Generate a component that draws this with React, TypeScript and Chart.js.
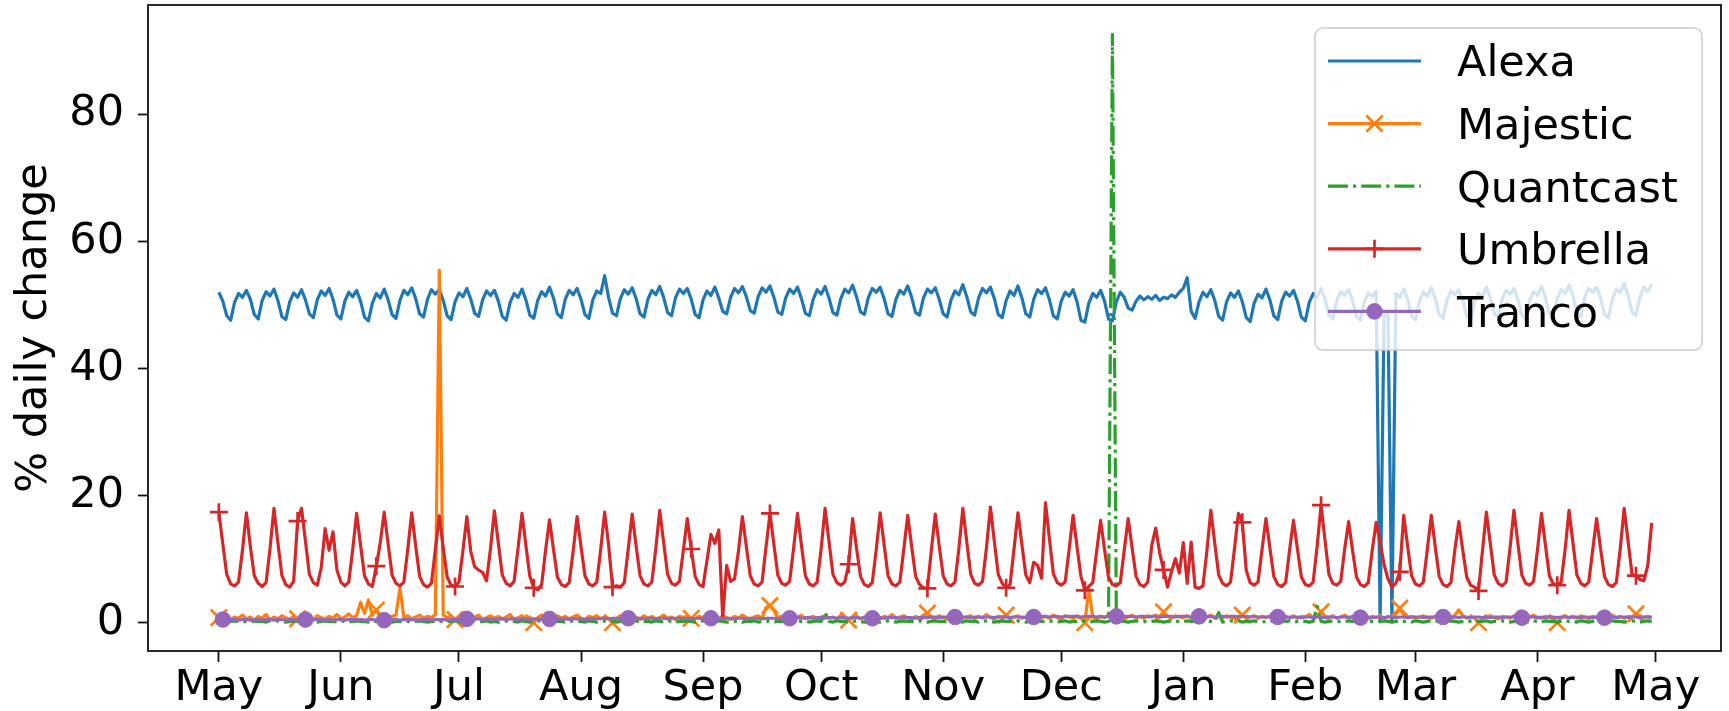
import React, { useEffect, useRef } from 'react';
import { Chart, registerables } from 'chart.js';

Chart.register(...registerables);

const FONT = '"DejaVu Sans", "Liberation Sans", sans-serif';
const FONT_SIZE = 43;
const LINE_W = 3.2;

// x axis: day index, 0 = 1 May
const monthTickDays = [0, 31, 61, 92, 123, 153, 184, 214, 245, 276, 304, 335, 365];
const monthLabels = ['May', 'Jun', 'Jul', 'Aug', 'Sep', 'Oct', 'Nov', 'Dec', 'Jan', 'Feb', 'Mar', 'Apr', 'May'];
const yTickValues = [0, 20, 40, 60, 80];
const seriesNames = ['Alexa', 'Majestic', 'Quantcast', 'Umbrella', 'Tranco'];
const seriesColors = ['#1f77b4', '#ff7f0e', '#2ca02c', '#d62728', '#9467bd'];

// daily % change, one row per week
const alexa = [
  52.0, 50.6, 48.3, 47.6, 50.4, 51.8, 51.2,
  52.3, 50.9, 48.5, 47.8, 50.7, 52.1, 51.4,
  52.5, 50.7, 48.2, 47.7, 50.5, 51.9, 51.2,
  52.4, 50.8, 48.6, 48.0, 50.8, 52.2, 51.5,
  52.6, 50.9, 48.4, 47.8, 50.6, 52.0, 51.3,
  52.3, 50.6, 48.1, 47.5, 50.3, 51.8, 51.1,
  52.5, 50.8, 48.5, 47.9, 50.7, 52.3, 51.6,
  52.7, 51.0, 48.6, 48.1, 50.9, 52.4, 51.7,
  52.4, 50.7, 48.3, 47.7, 50.5, 51.9, 51.3,
  52.6, 50.9, 48.7, 48.2, 50.8, 52.2, 51.5,
  52.3, 50.6, 48.2, 47.6, 50.4, 51.8, 51.2,
  52.5, 50.8, 48.4, 47.9, 50.7, 52.1, 51.4,
  52.8, 51.1, 48.6, 48.0, 50.9, 52.3, 51.6,
  52.6, 50.9, 48.5, 47.9, 50.8, 52.2, 51.8,
  54.6, 51.2, 48.7, 48.3, 51.0, 52.4, 51.7,
  52.7, 51.0, 48.6, 48.1, 50.9, 52.3, 51.6,
  52.9, 51.2, 48.8, 48.3, 51.1, 52.5, 51.8,
  52.6, 50.9, 48.5, 48.0, 50.8, 52.2, 51.5,
  52.8, 51.1, 49.0, 48.6, 51.2, 52.6, 51.9,
  52.9, 51.3, 49.1, 48.7, 51.3, 52.7, 52.0,
  53.0, 51.2, 48.9, 48.5, 51.1, 52.5, 51.8,
  52.8, 51.0, 48.7, 48.3, 50.9, 52.4, 51.7,
  52.9, 51.1, 48.8, 48.4, 51.0, 52.5, 51.9,
  53.1, 51.3, 48.9, 48.5, 51.2, 52.6, 52.0,
  52.8, 51.0, 48.6, 48.2, 50.9, 52.3, 51.7,
  53.0, 51.2, 48.8, 48.4, 51.1, 52.5, 51.9,
  52.7, 50.9, 48.6, 48.1, 50.8, 52.2, 51.6,
  53.2, 51.3, 48.9, 48.4, 51.1, 52.6, 51.9,
  52.8, 51.0, 48.5, 48.0, 50.7, 52.2, 51.5,
  53.0, 51.1, 48.6, 48.1, 50.9, 52.4, 51.8,
  52.7, 50.8, 48.3, 47.8, 50.6, 52.0, 51.4,
  52.4, 50.5, 47.6, 47.3, 50.3, 51.8, 51.2,
  52.3, 50.6, 47.8, 47.5, 50.5, 52.0, 51.2,
  49.5, 49.2, 50.6, 51.4, 50.8, 51.3, 50.9,
  51.5, 50.7, 51.2, 51.0, 51.6, 51.2, 52.0,
  52.6, 54.3, 49.0, 47.9, 50.5, 52.0, 51.3,
  52.4, 50.7, 48.2, 47.6, 50.5, 51.9, 51.2,
  52.2, 50.5, 48.0, 47.4, 50.3, 51.7, 51.1,
  52.5, 50.8, 48.3, 47.7, 50.6, 52.0, 51.4,
  52.3, 50.6, 48.1, 47.5, 50.4, 51.8, 51.2,
  52.6, 50.9, 48.4, 47.8, 50.7, 52.1, 51.5,
  52.4, 50.7, 48.2, 47.6, 50.5, 51.9, 51.3,
  52.2, 0.3, 48.3, 48.6, 0.3, 51.8, 51.2,
  52.5, 50.8, 48.3, 47.7, 50.6, 52.0, 51.4,
  52.7, 51.0, 48.5, 47.9, 50.8, 52.2, 51.6,
  52.4, 50.7, 48.2, 47.6, 50.5, 51.9, 51.3,
  52.8, 51.1, 48.6, 48.0, 50.9, 52.3, 51.7,
  52.6, 50.9, 48.4, 47.8, 50.7, 52.1, 51.5,
  52.9, 51.2, 48.7, 48.1, 51.0, 52.4, 51.8,
  53.1, 51.4, 48.8, 48.2, 51.2, 52.6, 52.0,
  52.8, 51.1, 48.6, 48.0, 50.9, 52.5, 51.9,
  53.4, 51.5, 48.9, 48.3, 51.2, 52.8, 52.1,
  53.3,
];

const majestic = [
  0.8, 0.6, 1.1, 0.5, 0.9, 0.7, 1.2,
  0.6, 0.9, 0.4, 1.0, 0.7, 1.3, 0.5,
  0.9, 0.6, 1.1, 0.8, 0.5, 1.0, 0.6,
  1.2, 0.7, 0.9, 0.5, 1.1, 0.8, 0.6,
  1.0, 0.7, 1.3, 0.6, 0.9, 1.4, 0.8,
  1.1, 3.2, 1.5, 3.6, 1.2, 2.0, 0.9,
  1.3, 0.7, 1.0, 1.2, 5.5, 0.8, 1.1,
  0.6, 0.9, 1.2, 0.7, 1.0, 0.8, 1.3,
  55.5, 1.2, 0.8, 1.1, 0.5, 0.9, 0.7,
  1.0, 0.6, 0.9, 1.2, 0.5, 0.8, 1.1,
  0.7, 1.0, 0.6, 0.9, 1.3, 0.5, 0.8,
  1.1, 0.6, 0.9, 0.0, 0.8, 1.2, 0.6,
  0.9, 0.5, 1.1, 0.7, 1.0, 0.6, 0.9,
  1.2, 0.7, 0.5, 1.0, 0.8, 1.1, 0.6,
  0.9, 0.7, 0.0, 0.6, 1.0, 0.8, 1.2,
  0.6, 0.9, 0.5, 1.1, 0.7, 1.0, 0.6,
  0.8, 1.2, 0.7, 0.9, 0.5, 1.0, 0.8,
  1.1, 0.7, 0.6, 1.0, 0.8, 1.2, 0.7,
  0.9, 0.6, 1.1, 0.8, 0.5, 1.0, 0.7,
  1.2, 0.8, 0.6, 0.9, 1.1, 0.7, 2.4,
  2.7, 1.9, 0.8, 1.0, 0.6, 1.1, 0.7,
  0.9, 1.2, 0.6, 0.8, 1.0, 0.5, 0.9,
  1.1, 0.7, 0.9, 0.6, 1.2, 0.8, 0.4,
  0.8, 1.1, 0.6, 0.9, 0.7, 1.2, 0.8,
  0.6, 1.0, 0.8, 1.3, 0.7, 0.9, 1.1,
  0.8, 0.6, 1.0, 0.7, 1.2, 1.5, 0.9,
  0.7, 1.1, 0.8, 0.6, 1.0, 0.9, 1.2,
  0.7, 0.9, 1.1, 0.6, 1.0, 0.8, 1.3,
  0.8, 0.6, 1.0, 0.9, 1.2, 0.7, 0.9,
  1.1, 0.7, 0.9, 1.2, 0.6, 1.0, 0.8,
  1.0, 0.7, 1.2, 0.8, 0.6, 1.1, 0.9,
  0.7, 1.0, 0.8, 0.0, 5.3, 0.9, 0.6,
  1.0, 0.8, 1.2, 0.7, 0.9, 1.1, 0.6,
  0.9, 1.2, 0.8, 1.0, 0.7, 1.1, 0.9,
  1.2, 0.8, 1.7, 1.0, 0.7, 1.1, 0.9,
  0.8, 1.1, 0.7, 1.0, 1.3, 0.8, 0.9,
  1.2, 0.7, 1.0, 0.8, 1.1, 0.9, 0.6,
  1.0, 1.2, 0.8, 0.9, 1.1, 0.7, 1.0,
  0.8, 1.1, 0.9, 0.7, 1.2, 1.0, 0.8,
  1.1, 0.7, 1.0, 0.9, 1.3, 0.8, 1.0,
  1.7, 1.0, 0.8, 1.1, 0.7, 0.9, 1.2,
  0.8, 1.0, 0.7, 1.1, 0.9, 0.6, 1.0,
  0.8, 1.1, 0.7, 1.0, 0.9, 1.3, 2.3,
  1.2, 0.8, 1.0, 0.7, 0.9, 1.1, 0.8,
  0.7, 1.0, 0.8, 1.1, 0.6, 0.9, 1.2,
  2.0, 1.1, 0.7, 0.9, 0.8, 0.0, 0.7,
  0.9, 1.1, 0.8, 0.6, 1.0, 0.9, 0.7,
  1.1, 0.8, 1.0, 0.6, 0.9, 1.2, 0.8,
  0.7, 1.0, 0.9, 0.6, 0.0, 0.8, 1.1,
  0.8, 1.0, 0.7, 1.1, 0.9, 0.6, 1.0,
  0.8, 1.1, 0.7, 0.9, 1.2, 0.8, 1.0,
  0.7, 1.0, 0.9, 1.4, 1.1, 0.8, 1.0,
  0.9,
];

const quantcast = [
  0.2, 0.3, 0.1, 0.2, 0.3, 0.2, 0.1,
  0.2, 0.1, 0.3, 0.2, 0.2, 0.1, 0.3,
  0.2, 0.3, 0.2, 0.1, 0.2, 0.3, 0.2,
  0.1, 0.2, 0.3, 0.2, 0.1, 0.2, 0.3,
  0.2, 0.2, 0.1, 0.3, 0.2, 0.1, 0.2,
  0.3, 0.2, 0.2, 0.1, 0.3, 0.2, 0.1,
  0.2, 0.3, 0.1, 0.2, 0.2, 0.3, 0.2,
  0.1, 0.2, 0.3, 0.2, 0.1, 0.2, 0.2,
  0.3, 0.1, 0.2, 0.2, 0.3, 0.1, 0.2,
  0.2, 0.2, 0.3, 0.1, 0.2, 0.3, 0.1,
  0.2, 0.1, 0.2, 0.3, 0.2, 0.2, 0.1,
  0.3, 0.2, 0.1, 0.2, 0.3, 0.2, 0.2,
  0.1, 0.3, 0.2, 0.2, 0.1, 0.2, 0.3,
  0.2, 0.2, 0.1, 0.3, 0.2, 0.1, 0.2,
  0.3, 0.2, 0.2, 0.1, 0.2, 0.3, 0.2,
  0.1, 0.2, 0.3, 0.2, 0.2, 0.1, 0.3,
  0.2, 0.1, 0.2, 0.3, 0.1, 0.2, 0.2,
  0.3, 0.2, 0.1, 0.2, 0.3, 0.2, 0.1,
  0.2, 0.3, 0.2, 0.1, 0.2, 0.2, 0.3,
  0.1, 0.2, 0.2, 0.3, 0.1, 0.2, 0.2,
  0.3, 0.1, 0.2, 0.2, 0.3, 0.2, 0.1,
  0.2, 0.2, 0.3, 0.1, 0.2, 0.3, 0.2,
  1.6, 0.2, 0.1, 0.3, 0.2, 0.2, 0.1,
  0.2, 0.3, 0.2, 0.1, 0.2, 0.3, 0.2,
  0.1, 0.2, 0.3, 0.2, 0.1, 0.2, 0.3,
  0.2, 0.2, 0.1, 0.3, 0.2, 0.1, 0.2,
  0.3, 0.2, 0.2, 0.1, 0.3, 0.2, 0.2,
  0.1, 0.3, 0.2, 0.2, 0.1, 0.2, 0.3,
  0.2, 0.1, 0.2, 0.3, 0.2, 0.2, 0.1,
  0.3, 0.2, 0.1, 0.2, 0.3, 0.2, 0.2,
  0.2, 0.3, 0.2, 0.1, 0.2, 0.3, 0.1,
  0.2, 0.2, 0.3, 0.2, 0.1, 0.2, 0.3,
  0.2, 0.1, 0.2, 92.6, 0.2, 0.3, 0.2,
  0.1, 0.2, 0.3, 0.2, 0.2, 0.1, 0.2,
  0.3, 0.2, 0.1, 0.2, 0.3, 0.2, 0.2,
  0.1, 0.3, 0.2, 0.2, 0.1, 0.2, 0.3,
  0.2, 0.2, 1.6, 0.1, 0.2, 0.3, 0.2,
  0.3, 0.1, 0.2, 0.2, 0.3, 0.2, 0.1,
  0.2, 0.3, 0.2, 0.1, 0.2, 0.2, 0.3,
  0.1, 0.2, 0.3, 0.2, 0.1, 0.2, 2.6,
  0.2, 0.1, 0.2, 0.3, 0.2, 0.2, 0.1,
  0.3, 0.2, 0.2, 0.1, 0.3, 0.2, 0.2,
  0.1, 0.2, 0.3, 0.2, 0.1, 0.2, 0.3,
  0.2, 0.2, 0.1, 0.3, 0.2, 0.1, 0.2,
  0.3, 0.2, 0.2, 0.1, 0.2, 0.3, 0.2,
  0.1, 0.2, 0.3, 0.2, 0.1, 0.2, 0.2,
  0.3, 0.1, 0.2, 0.2, 0.3, 0.2, 0.1,
  0.2, 0.2, 0.3, 0.1, 0.2, 0.3, 0.2,
  0.1, 0.3, 0.2, 0.2, 0.1, 0.2, 0.3,
  0.2, 0.2, 0.1, 0.3, 0.2, 0.1, 0.2,
  0.3, 0.2, 0.2, 0.1, 0.3, 0.2, 0.2,
  0.1, 0.2, 0.3, 0.2, 0.1, 0.2, 0.3,
  0.2,
];

const umbrella = [
  17.4, 12.4, 7.6, 6.1, 5.8, 6.4, 11.4,
  17.3, 12.0, 7.4, 6.2, 5.7, 6.3, 11.7,
  18.0, 12.6, 7.5, 6.0, 5.6, 6.5, 16.0,
  18.0, 12.8, 7.6, 6.3, 5.9, 8.6, 14.8,
  11.4, 14.3, 8.3, 6.4, 5.8, 6.4, 11.5,
  17.2, 12.2, 7.4, 6.1, 5.7, 8.9, 12.6,
  17.4, 12.4, 7.5, 6.2, 5.8, 6.4, 11.6,
  17.3, 12.1, 7.3, 6.0, 5.6, 6.2, 11.5,
  16.8, 11.8, 7.2, 5.9, 5.7, 6.4, 11.3,
  16.7, 11.2, 8.8, 8.3, 7.9, 6.6, 11.6,
  17.6, 12.5, 7.5, 6.2, 5.8, 6.5, 11.7,
  17.2, 12.2, 7.3, 5.5, 5.2, 6.0, 11.4,
  16.2, 11.6, 7.2, 6.0, 5.7, 6.3, 11.2,
  16.7, 12.0, 7.4, 6.1, 5.8, 6.4, 11.5,
  17.4, 12.3, 5.6, 5.8, 5.6, 6.3, 11.6,
  17.1, 12.1, 7.4, 6.1, 5.8, 6.4, 11.7,
  17.7, 12.6, 7.6, 6.2, 5.9, 6.5, 11.4,
  16.4, 11.6, 7.3, 6.0, 5.7, 9.8, 13.9,
  12.5, 14.6, 0.8, 9.0, 6.5, 6.9, 11.3,
  16.7, 12.0, 7.4, 6.1, 5.8, 6.4, 11.9,
  17.2, 12.3, 7.5, 6.2, 5.9, 6.5, 11.7,
  17.2, 12.2, 7.4, 6.1, 5.8, 6.4, 11.6,
  18.0, 12.8, 7.6, 6.3, 5.9, 6.4, 9.2,
  16.4, 11.7, 7.3, 6.0, 5.7, 6.3, 11.5,
  17.3, 12.3, 7.4, 6.1, 5.8, 6.4, 11.6,
  16.9, 12.0, 7.3, 6.0, 5.5, 5.4, 11.4,
  17.1, 12.1, 7.4, 6.1, 5.8, 6.4, 11.7,
  18.0, 12.7, 7.6, 6.2, 5.9, 6.5, 11.8,
  18.2, 12.8, 7.6, 6.2, 5.5, 6.0, 11.6,
  17.3, 12.3, 7.5, 6.3, 9.5, 9.0, 7.0,
  18.9, 13.2, 7.7, 6.3, 5.9, 6.4, 11.5,
  16.9, 12.0, 7.3, 5.1, 5.7, 6.3, 11.3,
  16.1, 11.5, 7.2, 6.0, 5.8, 6.3, 11.4,
  16.4, 11.8, 7.3, 6.0, 5.7, 6.4, 12.2,
  14.9, 11.0, 8.3, 5.6, 8.0, 10.1, 7.8,
  12.6, 6.2, 12.7, 5.6, 5.4, 5.8, 11.3,
  17.7, 12.5, 7.5, 6.2, 5.8, 6.4, 11.6,
  17.2, 15.8, 8.2, 6.3, 5.9, 6.4, 11.5,
  16.4, 11.8, 7.3, 6.0, 5.7, 6.3, 11.4,
  16.1, 11.6, 7.2, 6.0, 5.8, 6.4, 12.0,
  18.5, 13.0, 7.6, 6.2, 5.9, 6.5, 11.6,
  15.9, 11.4, 7.2, 6.0, 5.7, 6.3, 11.4,
  15.8, 12.6, 9.2, 6.9, 5.6, 6.2, 8.0,
  16.9, 12.0, 7.4, 6.1, 5.8, 6.4, 11.6,
  16.9, 12.0, 7.3, 6.0, 5.7, 6.3, 11.5,
  15.9, 11.4, 7.2, 5.9, 5.6, 5.0, 11.3,
  17.4, 12.4, 7.5, 6.2, 5.8, 6.4, 11.7,
  17.7, 12.5, 7.5, 6.2, 5.9, 6.5, 11.6,
  17.2, 12.2, 7.4, 6.1, 5.9, 6.4, 11.5,
  17.7, 12.5, 7.5, 6.2, 5.8, 6.4, 11.4,
  16.4, 11.7, 7.3, 6.0, 5.7, 6.3, 11.6,
  18.0, 12.8, 7.6, 7.4, 6.8, 6.6, 9.0,
  15.7,
];

const tranco = [
  0.5, 0.5, 0.4, 0.5, 0.5, 0.4, 0.5,
  0.5, 0.4, 0.5, 0.5, 0.4, 0.5, 0.5,
  0.4, 0.5, 0.5, 0.4, 0.5, 0.5, 0.4,
  0.5, 0.5, 0.4, 0.5, 0.5, 0.5, 0.4,
  0.5, 0.4, 0.5, 0.5, 0.4, 0.5, 0.5,
  0.5, 0.5, 0.4, 0.5, 0.5, 0.4, 0.5,
  0.4, 0.5, 0.5, 0.5, 0.4, 0.5, 0.5,
  0.5, 0.4, 0.5, 0.5, 0.5, 0.4, 0.5,
  0.5, 0.5, 0.4, 0.5, 0.5, 0.5, 0.6,
  0.6, 0.5, 0.6, 0.6, 0.5, 0.6, 0.6,
  0.5, 0.6, 0.6, 0.5, 0.6, 0.6, 0.5,
  0.6, 0.6, 0.5, 0.6, 0.6, 0.5, 0.6,
  0.6, 0.5, 0.6, 0.6, 0.6, 0.5, 0.6,
  0.6, 0.6, 0.5, 0.6, 0.6, 0.6, 0.7,
  0.7, 0.6, 0.7, 0.7, 0.6, 0.7, 0.7,
  0.6, 0.7, 0.7, 0.6, 0.7, 0.7, 0.6,
  0.7, 0.7, 0.6, 0.7, 0.7, 0.7, 0.6,
  0.7, 0.6, 0.7, 0.7, 0.6, 0.7, 0.7,
  0.7, 0.7, 0.6, 0.7, 0.7, 0.6, 0.7,
  0.7, 0.6, 0.7, 0.7, 0.7, 0.6, 0.7,
  0.7, 0.7, 0.6, 0.7, 0.7, 0.7, 0.8,
  0.8, 0.7, 0.8, 0.8, 0.7, 0.8, 0.8,
  0.7, 0.8, 0.8, 0.7, 0.8, 0.8, 0.7,
  0.8, 0.8, 0.7, 0.8, 0.8, 0.7, 0.8,
  0.8, 0.7, 0.8, 0.8, 0.8, 0.7, 0.8,
  0.8, 0.8, 0.7, 0.8, 0.8, 0.8, 0.9,
  0.9, 0.8, 0.9, 0.9, 0.8, 0.9, 0.9,
  0.9, 0.9, 0.8, 0.9, 0.9, 0.8, 0.9,
  0.9, 0.8, 0.9, 0.9, 0.9, 0.8, 0.9,
  0.9, 0.9, 0.8, 0.9, 0.9, 0.9, 1.0,
  1.0, 0.9, 1.0, 1.0, 0.9, 1.0, 1.0,
  1.0, 1.0, 0.9, 1.0, 1.0, 1.0, 0.9,
  1.0, 0.9, 1.0, 1.0, 1.0, 0.9, 1.0,
  1.0, 1.0, 0.9, 1.0, 1.0, 0.9, 1.0,
  1.0, 0.9, 1.0, 1.0, 1.0, 0.9, 1.0,
  1.0, 1.0, 0.9, 1.0, 1.0, 1.0, 0.9,
  1.0, 0.9, 1.0, 1.0, 0.9, 1.0, 1.0,
  0.9, 1.0, 1.0, 0.9, 1.0, 0.9, 0.9,
  0.9, 0.9, 0.8, 0.9, 0.9, 0.9, 0.8,
  0.9, 0.9, 0.8, 0.9, 0.9, 0.8, 0.9,
  0.9, 0.8, 0.9, 0.9, 0.8, 0.9, 0.9,
  0.8, 0.9, 0.9, 0.8, 0.9, 0.9, 0.8,
  0.9, 0.9, 0.8, 0.9, 0.9, 0.8, 0.9,
  0.9, 0.8, 0.9, 0.9, 0.9, 0.8, 0.9,
  0.9, 0.9, 0.8, 0.9, 0.9, 0.8, 0.9,
  0.8, 0.9, 0.9, 0.8, 0.9, 0.9, 0.8,
  0.9, 0.8, 0.9, 0.9, 0.8, 0.9, 0.9,
  0.9, 0.9, 0.8, 0.9, 0.9, 0.9, 0.8,
  0.9, 0.8, 0.9, 0.9, 0.8, 0.9, 0.9,
  0.8, 0.9, 0.9, 0.8, 0.9, 0.9, 0.8,
  0.9, 0.9, 0.8, 0.9, 0.9, 0.8, 0.9,
  0.9, 0.8, 0.9, 0.9, 0.8, 0.9, 0.9,
  0.8,
];

const seriesValues = [alexa, majestic, quantcast, umbrella, tranco];

// marker styling (matplotlib markevery emulation)
const MARK_EVERY = 20;
const TRANCO_MARK_STEP = 20.64;
const isTrancoMark = (i: number) =>
  i >= 1 && Math.round(1 + Math.round((i - 1) / TRANCO_MARK_STEP) * TRANCO_MARK_STEP) === i;

const markerStyles: (null | { style: string; r: number; lw: number })[] = [
  null,
  { style: 'crossRot', r: 11.5, lw: 2.7 },
  null,
  { style: 'cross', r: 9, lw: 2.7 },
  { style: 'circle', r: 7.8, lw: 1 },
];

function drawMarker(ctx: CanvasRenderingContext2D, style: string, x: number, y: number, r: number, color: string, lw: number) {
  ctx.save();
  ctx.setLineDash([]);
  ctx.strokeStyle = color;
  ctx.fillStyle = color;
  ctx.lineWidth = lw;
  ctx.beginPath();
  if (style === 'circle') {
    ctx.arc(x, y, r, 0, Math.PI * 2);
    ctx.fill();
    ctx.stroke();
  } else if (style === 'cross') {
    ctx.moveTo(x - r, y);
    ctx.lineTo(x + r, y);
    ctx.moveTo(x, y - r);
    ctx.lineTo(x, y + r);
    ctx.stroke();
  } else {
    const d = r * Math.SQRT1_2;
    ctx.moveTo(x - d, y - d);
    ctx.lineTo(x + d, y + d);
    ctx.moveTo(x - d, y + d);
    ctx.lineTo(x + d, y - d);
    ctx.stroke();
  }
  ctx.restore();
}

const framePlugin = {
  id: 'mplFrame',
  afterDatasetsDraw(chart: any) {
    const { ctx, chartArea: a } = chart;
    ctx.save();
    ctx.strokeStyle = '#111';
    ctx.lineWidth = 1.8;
    ctx.strokeRect(a.left, a.top, a.right - a.left, a.bottom - a.top);
    ctx.restore();
  },
};

const legendPlugin = {
  id: 'mplLegend',
  afterDraw(chart: any) {
    const { ctx, chartArea: a } = chart;
    const boxRight = a.right - 19;
    const boxTop = a.top + 23;
    const boxW = 387;
    const boxH = 322;
    const boxLeft = boxRight - boxW;
    ctx.save();
    ctx.beginPath();
    ctx.roundRect(boxLeft, boxTop, boxW, boxH, 8);
    ctx.fillStyle = 'rgba(255,255,255,0.8)';
    ctx.fill();
    ctx.strokeStyle = '#cccccc';
    ctx.lineWidth = 1.5;
    ctx.stroke();
    chart.data.datasets.forEach((ds: any, i: number) => {
      const cy = boxTop + 33 + i * 62.6;
      const x1 = boxLeft + 13;
      const x2 = boxLeft + 106;
      ctx.save();
      ctx.beginPath();
      ctx.setLineDash(ds.borderDash || []);
      ctx.strokeStyle = ds.borderColor;
      ctx.lineWidth = ds.borderWidth;
      ctx.moveTo(x1, cy);
      ctx.lineTo(x2, cy);
      ctx.stroke();
      ctx.restore();
      const m = markerStyles[i];
      if (m) drawMarker(ctx, m.style, (x1 + x2) / 2, cy, m.r, ds.borderColor, m.lw);
      ctx.fillStyle = '#000';
      ctx.font = `${FONT_SIZE}px ${FONT}`;
      ctx.textBaseline = 'alphabetic';
      ctx.textAlign = 'left';
      ctx.fillText(ds.label, boxLeft + 142, cy + 0.36 * FONT_SIZE);
    });
    ctx.restore();
  },
};

export default function App() {
  const canvasRef = useRef<HTMLCanvasElement | null>(null);

  useEffect(() => {
    const canvas = canvasRef.current;
    if (!canvas) return;

    const datasets = seriesNames.map((name, i) => {
      const m = markerStyles[i];
      const color = seriesColors[i];
      const ds: any = {
        label: name,
        data: seriesValues[i].map((y, x) => ({ x, y })),
        borderColor: color,
        backgroundColor: color,
        borderWidth: LINE_W,
        borderJoinStyle: 'round',
        tension: 0,
        fill: false,
        order: seriesNames.length - i,
        pointRadius: 0,
        pointHoverRadius: 0,
        pointHitRadius: 0,
      };
      if (name === 'Quantcast') ds.borderDash = [20, 5, 3.2, 5];
      if (m) {
        ds.pointStyle = m.style;
        ds.pointBorderWidth = m.lw;
        ds.pointBorderColor = color;
        ds.pointBackgroundColor = color;
        ds.pointRadius = (c: any) => {
          const show = name === 'Tranco' ? isTrancoMark(c.index) : c.index % MARK_EVERY === 0;
          return show ? m.r : 0;
        };
      }
      return ds;
    });

    const tickFont = { family: FONT, size: FONT_SIZE };

    const chart = new Chart(canvas, {
      type: 'line',
      data: { datasets },
      plugins: [framePlugin, legendPlugin],
      options: {
        animation: false,
        responsive: false,
        devicePixelRatio: 1,
        events: [],
        layout: { autoPadding: false, padding: { left: 0, right: 8, top: 5, bottom: 0 } },
        plugins: { legend: { display: false }, tooltip: { enabled: false } },
        scales: {
          x: {
            type: 'linear',
            min: -18,
            max: 381.6,
            afterBuildTicks: (s: any) => {
              s.ticks = monthTickDays.map((v) => ({ value: v }));
            },
            afterFit: (s: any) => {
              s.height = 60;
              s.paddingLeft = 0;
              s.paddingRight = 0;
            },
            ticks: {
              autoSkip: false,
              maxRotation: 0,
              minRotation: 0,
              padding: 1,
              color: '#000',
              font: tickFont,
              callback: (_v: any, idx: number) => monthLabels[idx],
            },
            grid: { display: true, drawOnChartArea: false, drawTicks: true, tickLength: 11, tickColor: '#111', tickWidth: 1.8 },
            border: { display: false },
          },
          y: {
            type: 'linear',
            min: -4.45,
            max: 97.2,
            afterBuildTicks: (s: any) => {
              s.ticks = yTickValues.map((v) => ({ value: v }));
            },
            afterFit: (s: any) => {
              s.width = 148;
              s.paddingTop = 0;
              s.paddingBottom = 0;
            },
            ticks: { padding: 14, color: '#000', font: tickFont },
            grid: { display: true, drawOnChartArea: false, drawTicks: true, tickLength: 10, tickColor: '#111', tickWidth: 1.8 },
            border: { display: false },
            title: {
              display: true,
              text: '% daily change',
              color: '#000',
              font: tickFont,
              padding: { top: 9, bottom: 0 },
            },
          },
        },
      } as any,
    });

    return () => chart.destroy();
  }, []);

  return (
    <div style={{ position: 'absolute', left: 0, top: 0, width: 1729, height: 711, background: '#fff' }}>
      <canvas ref={canvasRef} width={1729} height={711} style={{ width: '1729px', height: '711px', display: 'block' }} />
    </div>
  );
}
